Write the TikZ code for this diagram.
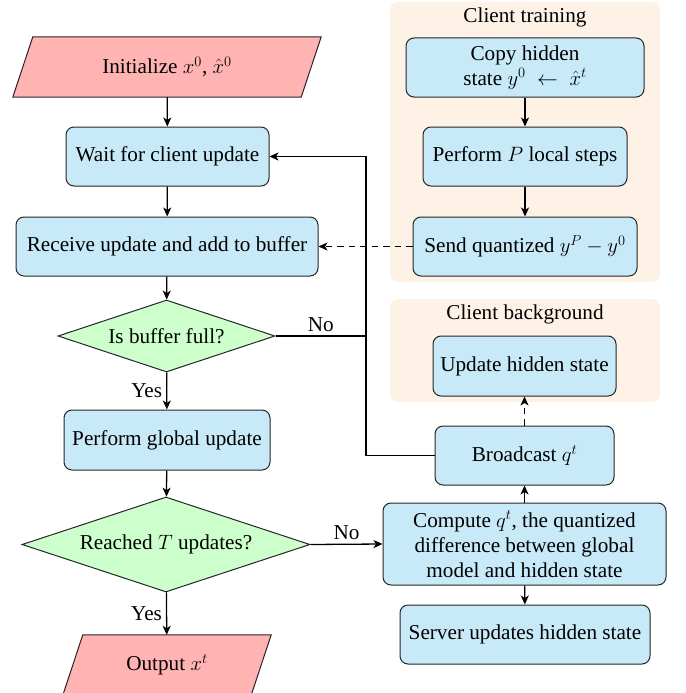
\documentclass[tikz,border=0pt]{standalone}
\usepackage{fontspec}
\setmainfont{Liberation Serif}
\usetikzlibrary{shapes.geometric,arrows.meta,backgrounds,calc}
\definecolor{boxblue}{RGB}{199,233,248}
\definecolor{iopink}{RGB}{255,179,179}
\definecolor{decgreen}{RGB}{204,255,204}
\definecolor{bgorange}{RGB}{254,241,230}
\begin{document}
\begin{tikzpicture}[x=1pt,y=-1pt, font=\fontsize{21.2}{25}\selectfont,
  process/.style={draw=black!85, fill=boxblue, rounded corners=8pt, line width=1pt, inner sep=0pt, align=center},
  decision/.style={diamond, aspect=3, draw=black!85, fill=decgreen, line width=1pt, inner sep=0pt},
  iobox/.style={inner sep=0pt, minimum height=60pt},
  conn/.style={line width=1.3pt, -{Stealth[length=9pt,width=8pt,inset=2.5pt]}},
  dconn/.style={conn, dash pattern=on 6.5pt off 5pt},
  plain/.style={line width=1.3pt},
  lbl/.style={inner sep=4pt}
]
\useasboundingbox (0,0) rectangle (685,693);

% left column
\node[iobox, minimum width=288pt] (init) at (167,67) {Initialize $x^0$, $\hat{x}^0$};
\node[process, minimum width=203pt, minimum height=59pt] (wait) at (167.5,156.5) {Wait for client update};
\node[process, minimum width=302pt, minimum height=59pt] (recv) at (167,246.5) {Receive update and add to buffer};
\node[decision, minimum width=217pt, minimum height=72pt] (buf) at (166.5,336) {Is buffer full?};
\node[process, minimum width=206pt, minimum height=60pt] (glob) at (167,440) {Perform global update};
\node[decision, aspect=3.03, minimum width=288pt, minimum height=95pt] (reach) at (166,544.5) {Reached $T$ updates?};
\node[iobox, minimum width=188pt] (out) at (167,665) {Output $x^t$};

% right column
\node (t1) at (525,17) {Client training};
\node[process, minimum width=238pt, minimum height=59pt] (copy) at (525,67.5) {Copy hidden\\state $y^0 \;\leftarrow\; \hat{x}^t$};
\node[process, minimum width=204pt, minimum height=59pt] (locp) at (525,156.5) {Perform $P$ local steps};
\node[process, minimum width=224pt, minimum height=59pt] (send) at (525,246.5) {Send quantized $y^P - y^0$};
\node (t2) at (525,314) {Client background};
\node[process, minimum width=183pt, minimum height=60pt] (upd) at (524.5,366) {Update hidden state};
\node[process, minimum width=179pt, minimum height=59pt] (bcast) at (524.5,455.5) {Broadcast $q^t$};
\node[process, minimum width=283pt, minimum height=82pt] (comp) at (524.5,544) {Compute $q^t$, the quantized\\difference between global\\model and hidden state};
\node[process, minimum width=250pt, minimum height=59pt] (serv) at (525,634.5) {Server updates hidden state};

\coordinate (jx) at (366,0);

% connectors
\draw[conn] (init) -- (wait);
\draw[conn] (wait) -- (recv);
\draw[conn] (recv) -- (buf);
\draw[conn] (buf) -- node[lbl, midway, left] {Yes} (glob);
\draw[conn] (glob) -- (reach);
\draw[conn] (reach) -- node[lbl, midway, left] {Yes} (out);
\draw[plain] (buf.east) -- node[lbl, midway, above] {No} (buf.east -| jx);
\draw[conn] (bcast.west) -- (bcast.west -| jx) -- (wait.east -| jx) -- (wait.east);
\draw[dconn] (send.west) -- (recv.east);
\draw[conn] (copy) -- (locp);
\draw[conn] (locp) -- (send);
\draw[conn] (reach.east) -- node[lbl, midway, above] {No} (comp.west);
\draw[conn] (comp) -- (bcast);
\draw[dconn] (bcast) -- (upd);
\draw[conn] (comp) -- (serv);

\begin{pgfonlayer}{background}
  \fill[bgorange, rounded corners=8pt] (390,2) rectangle (660,282);
  \fill[bgorange, rounded corners=8pt] (390,299) rectangle (660,402);
  \path[fill=iopink, draw=black!85, line width=1pt]
    ($(init.north west)+(10,0)$) -- ($(init.north east)+(10,0)$) --
    ($(init.south east)+(-10,0)$) -- ($(init.south west)+(-10,0)$) -- cycle;
  \path[fill=iopink, draw=black!85, line width=1pt]
    ($(out.north west)+(10,0)$) -- ($(out.north east)+(10,0)$) --
    ($(out.south east)+(-10,0)$) -- ($(out.south west)+(-10,0)$) -- cycle;
\end{pgfonlayer}
\end{tikzpicture}
\end{document}
